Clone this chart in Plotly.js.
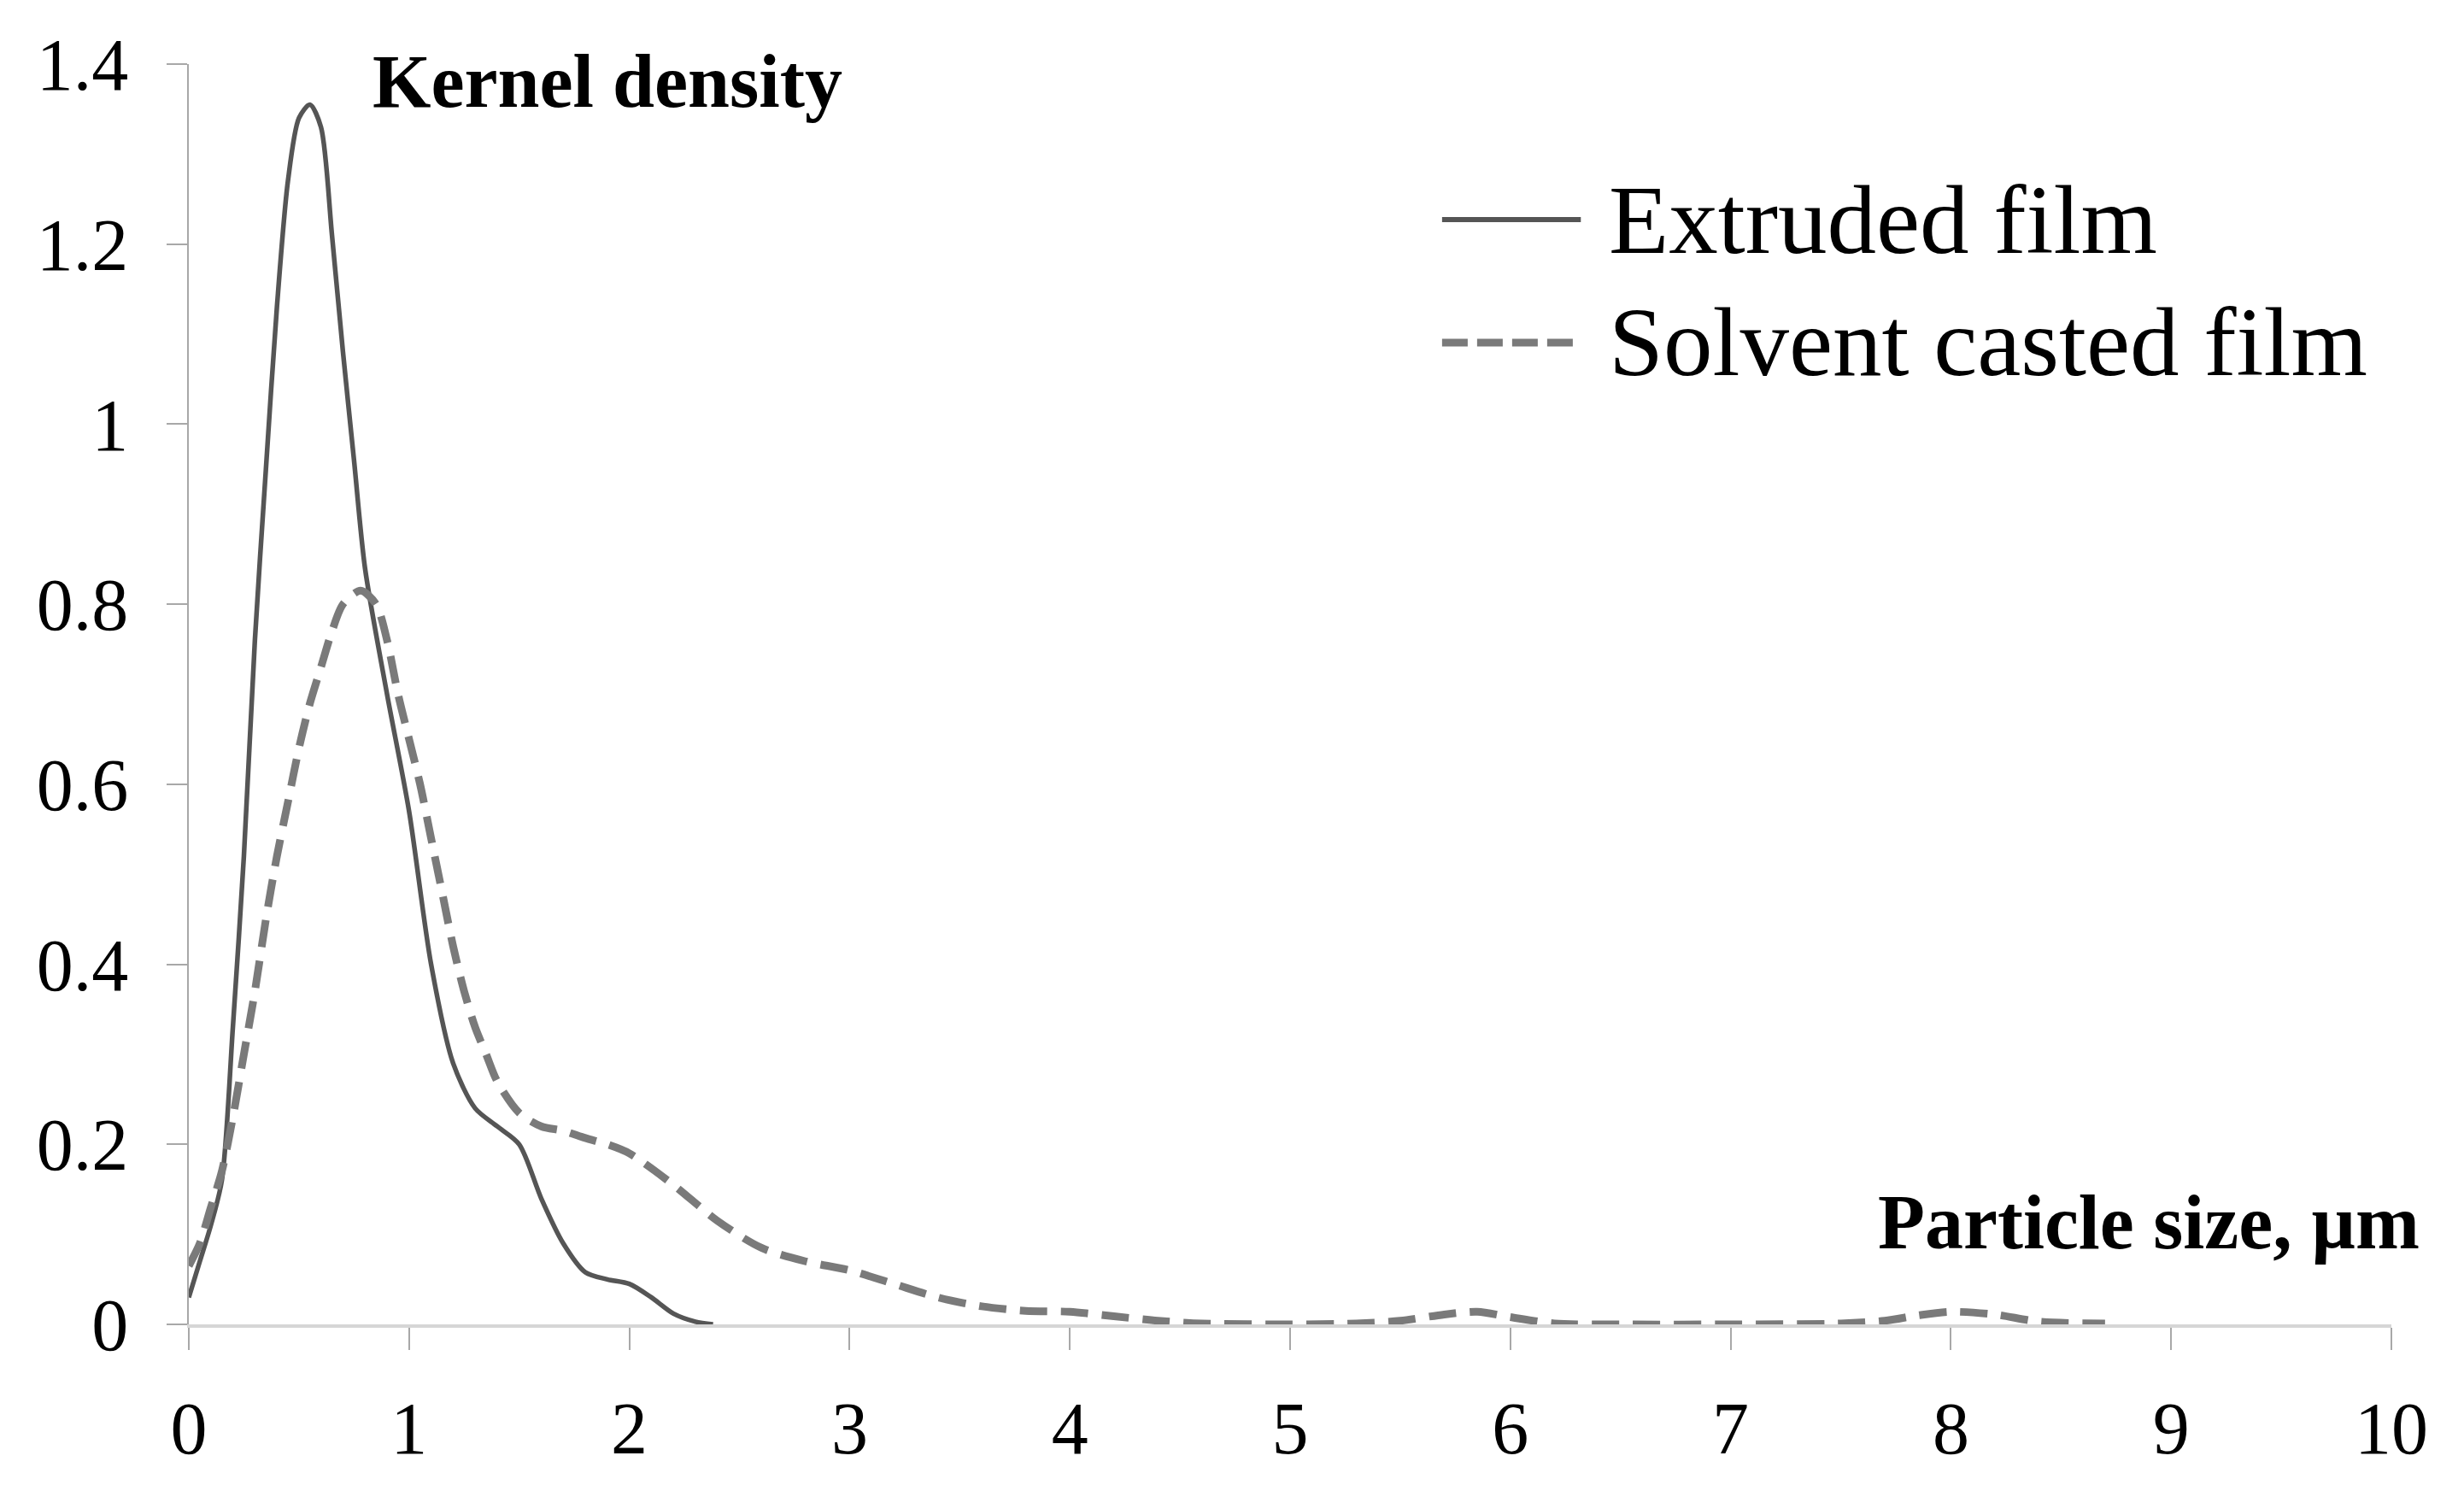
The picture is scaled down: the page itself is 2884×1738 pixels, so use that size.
<!DOCTYPE html>
<html>
<head>
<meta charset="utf-8">
<script src="https://cdn.plot.ly/plotly-3.0.1.min.js"></script>
<style>
  html, body { margin: 0; padding: 0; background: #fff; }
  #graph { width: 2884px; height: 1738px; }
</style>
</head>
<body>
<div id="graph"></div>
<script>
// particle size (um) and kernel density
var extrudedX = [0, 0.05, 0.1, 0.15, 0.2, 0.25, 0.3, 0.35, 0.4, 0.45, 0.5, 0.55, 0.6, 0.65, 0.7, 0.75, 0.8, 0.9,
                 1.0, 1.1, 1.2, 1.3, 1.4, 1.5, 1.6, 1.7, 1.8, 1.9, 2.0, 2.1, 2.2, 2.3, 2.38];
var extrudedY = [0.03, 0.07, 0.11, 0.16, 0.33, 0.52, 0.76, 0.95, 1.13, 1.27, 1.34, 1.355, 1.33, 1.21, 1.08, 0.96, 0.84, 0.7,
                 0.57, 0.4, 0.29, 0.24, 0.22, 0.2, 0.14, 0.09, 0.058, 0.05, 0.045, 0.03, 0.012, 0.003, 0];

var castX = [0, 0.05, 0.1, 0.15, 0.2, 0.25, 0.3, 0.35, 0.4, 0.45, 0.5, 0.55, 0.6, 0.65, 0.7, 0.78, 0.85, 0.9, 0.95,
             1.0, 1.05, 1.1, 1.15, 1.2, 1.25, 1.3, 1.35, 1.4, 1.5, 1.6, 1.7, 1.8, 1.9, 2.0, 2.2, 2.4, 2.6, 2.8,
             3.0, 3.2, 3.4, 3.6, 3.8, 4.0, 4.2, 4.4, 4.6, 5.0, 5.3, 5.5, 5.7, 5.85, 6.0, 6.2, 6.5, 7.0, 7.5, 7.7,
             7.85, 8.0, 8.2, 8.4, 8.7];
var castY = [0.065, 0.09, 0.13, 0.17, 0.23, 0.3, 0.37, 0.45, 0.52, 0.58, 0.64, 0.69, 0.73, 0.77, 0.8, 0.815, 0.8, 0.76, 0.7,
             0.65, 0.6, 0.54, 0.48, 0.42, 0.37, 0.33, 0.3, 0.27, 0.235, 0.22, 0.215, 0.207, 0.2, 0.19, 0.155, 0.115, 0.085, 0.07,
             0.06, 0.045, 0.03, 0.02, 0.015, 0.014, 0.009, 0.004, 0.001, 0, 0.001, 0.004, 0.011, 0.014, 0.008, 0.001, 0, 0, 0.001, 0.004,
             0.01, 0.014, 0.011, 0.003, 0.001];

var seriesNames = ['Extruded film', 'Solvent casted film'];
var xTicks = [0, 1, 2, 3, 4, 5, 6, 7, 8, 9, 10];
var yTicks = [0, 0.2, 0.4, 0.6, 0.8, 1, 1.2, 1.4];

var serif = '"Liberation Serif", "Times New Roman", serif';
var solidColor = '#555555';
var dashColor = '#7a7a7a';

var trace1 = {
    x: extrudedX,
    y: extrudedY,
    mode: 'lines',
    name: seriesNames[0],
    line: {color: solidColor, width: 5.5, shape: 'spline', smoothing: 0.8},
    showlegend: false
};

var trace2 = {
    x: castX,
    y: castY,
    mode: 'lines',
    name: seriesNames[1],
    line: {color: dashColor, width: 9, shape: 'spline', smoothing: 0.8, dash: '32px,16px'},
    showlegend: false
};

// legend drawn by hand so the line samples can be as long as in the figure
var legendShapes = [
    {type: 'line', xref: 'paper', yref: 'paper', x0: 0.569, x1: 0.632, y0: 0.8766, y1: 0.8766,
     line: {color: solidColor, width: 6}},
    {type: 'line', xref: 'paper', yref: 'paper', x0: 0.569, x1: 0.632, y0: 0.779, y1: 0.779,
     line: {color: dashColor, width: 9, dash: '30px,11px'}}
];

var notes = [
    {text: seriesNames[0], xref: 'paper', yref: 'paper', x: 0.644, y: 0.8766, xanchor: 'left', yanchor: 'middle',
     showarrow: false, font: {family: serif, size: 115, color: '#000'}},
    {text: seriesNames[1], xref: 'paper', yref: 'paper', x: 0.644, y: 0.779, xanchor: 'left', yanchor: 'middle',
     showarrow: false, font: {family: serif, size: 115, color: '#000'}},
    {text: '<b>Kernel density</b>', xref: 'paper', yref: 'paper', x: 0.0827, y: 0.986, xanchor: 'left', yanchor: 'middle',
     showarrow: false, font: {family: serif, size: 88, color: '#000'}},
    {text: '<b>Particle size, µm</b>', xref: 'paper', yref: 'paper', x: 1.0136, y: 0.0807, xanchor: 'right', yanchor: 'middle',
     showarrow: false, font: {family: serif, size: 90, color: '#000'}}
];

var layout = {
    width: 2884,
    height: 1738,
    margin: {l: 221, r: 85, t: 75, b: 188},
    paper_bgcolor: '#ffffff',
    plot_bgcolor: '#ffffff',
    font: {family: serif, color: '#000'},
    xaxis: {
        range: [0, 10],
        tickvals: xTicks,
        showgrid: false,
        zeroline: false,
        showline: true,
        linecolor: '#d6d6d6',
        linewidth: 4,
        ticks: 'outside',
        ticklen: 26,
        tickwidth: 2,
        tickcolor: '#a8a8a8',
        ticklabelstandoff: 18,
        tickfont: {family: serif, size: 86, color: '#000'},
        layer: 'below traces'
    },
    yaxis: {
        range: [0, 1.4],
        tickvals: yTicks,
        showgrid: false,
        zeroline: false,
        showline: true,
        linecolor: '#a8a8a8',
        linewidth: 2.5,
        ticks: 'outside',
        ticklen: 24,
        tickwidth: 2,
        tickcolor: '#a8a8a8',
        ticklabelstandoff: 27,
        tickfont: {family: serif, size: 86, color: '#000'},
        layer: 'below traces'
    },
    shapes: legendShapes,
    annotations: notes,
    showlegend: false
};

Plotly.newPlot('graph', [trace1, trace2], layout, {displayModeBar: false, staticPlot: true});
</script>
</body>
</html>
